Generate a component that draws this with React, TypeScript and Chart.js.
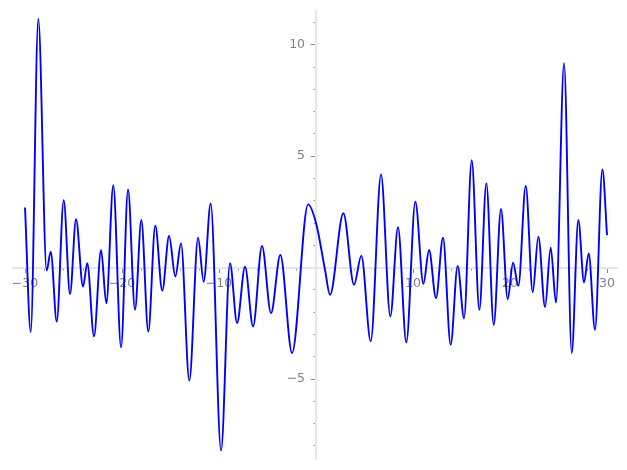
import { useEffect, useRef } from 'react';
import { Chart, registerables } from 'chart.js';

Chart.register(...registerables);

// Curve samples (extrema and a few key points)
const xValues = [
  -30, -29.41, -28.63, -27.77, -27.35, -26.73, -26.01, -25.36, -24.74, -24.02,
  -23.58, -22.89, -22.16, -21.62, -20.9, -20.1, -19.38, -18.66, -18.01, -17.29,
  -16.57, -15.85, -15.15, -14.5, -13.92, -13.06, -12.16, -11.58, -10.86, -9.79,
  -8.87, -8.14, -7.32, -6.49, -5.57, -4.64, -3.68, -2.47, -0.82, 0.0,
  0.93, 1.44, 2.82, 3.92, 4.67, 5.64, 6.7, 7.66, 8.45, 9.31,
  10.24, 11.07, 11.65, 12.37, 13.09, 13.88, 14.6, 15.26, 16.05, 16.84,
  17.56, 18.32, 19.07, 19.76, 20.31, 20.86, 21.62, 22.34, 22.92, 23.61,
  24.19, 24.74, 25.57, 26.36, 27.04, 27.63, 28.11, 28.76, 29.52, 30,
];
const yValues = [
  2.7, -2.89, 11.17, -0.13, 0.72, -2.42, 3.03, -1.19, 2.17, -0.85,
  0.2, -3.09, 0.79, -1.6, 3.7, -3.58, 3.51, -1.89, 2.14, -2.87,
  1.88, -1.04, 1.42, -0.4, 1.09, -5.07, 1.34, -0.63, 2.88, -8.21,
  0.2, -2.49, 0.04, -2.64, 0.97, -2.04, 0.57, -3.83, 2.84, 2.0,
  -0.1, -1.22, 2.44, -0.77, 0.54, -3.31, 4.18, -2.19, 1.81, -3.36,
  2.96, -0.73, 0.79, -1.37, 1.34, -3.46, 0.08, -2.27, 4.82, -1.89,
  3.78, -2.57, 2.63, -1.42, 0.22, -0.82, 3.67, -1.1, 1.39, -1.77,
  0.9, -1.57, 9.18, -3.83, 2.14, -0.67, 0.64, -2.79, 4.41, 1.46,
];

const xMajorTicks = [-30, -20, -10, 10, 20, 30];
const xMinorTicks = [
  -30, -28, -26, -24, -22, -20, -18, -16, -14, -12, -10, -8, -6, -4, -2, 0,
  2, 4, 6, 8, 10, 12, 14, 16, 18, 20, 22, 24, 26, 28, 30,
];
const yMajorTicks = [-5, 5, 10];
const yMinorTicks = [-8, -7, -6, -5, -4, -3, -2, -1, 0, 1, 2, 3, 4, 5, 6, 7, 8, 9, 10, 11];

const X_MIN = -31.27;
const X_MAX = 31.1;
const Y_MIN = -8.61;
const Y_MAX = 11.54;
// x-value at which the right edge of the y tick labels sits (left of the spine)
const Y_LABEL_ANCHOR = -1.13;

const fmt = (v: number) => (v < 0 ? '\u2212' + Math.abs(v) : String(v));

const LABEL_COLOR = '#808080';
const SPINE_COLOR = '#e6e6e6';
const TICK_COLOR = '#8c8c8c';
const FONT = { family: 'DejaVu Sans', size: 12.5 };

export default function App() {
  const ref = useRef<HTMLCanvasElement | null>(null);

  useEffect(() => {
    if (!ref.current) return;
    const chart = new Chart(ref.current, {
      type: 'line',
      data: {
        datasets: [
          {
            data: xValues.map((x, i) => ({ x, y: yValues[i] })),
            borderColor: '#0000ff',
            borderWidth: 1.9,
            pointRadius: 0,
            fill: false,
            cubicInterpolationMode: 'monotone',
          },
        ],
      },
      options: {
        responsive: false,
        animation: false,
        devicePixelRatio: 1,
        layout: { padding: { left: 12.7, right: 9.3, top: 10, bottom: 10 } },
        plugins: { legend: { display: false }, tooltip: { enabled: false } },
        scales: {
          x: {
            type: 'linear',
            min: X_MIN,
            max: X_MAX,
            position: { y: 0 },
            afterBuildTicks: (s: any) => {
              s.ticks = xMajorTicks.map((v) => ({ value: v }));
            },
            ticks: {
              color: LABEL_COLOR,
              font: FONT,
              padding: 5,
              autoSkip: false,
              maxRotation: 0,
              callback: (v: any) => fmt(Number(v)),
            },
            grid: { drawOnChartArea: false, drawTicks: true, tickLength: 4, tickColor: TICK_COLOR, tickWidth: 1 },
            border: { display: true, color: SPINE_COLOR, width: 2 },
          },
          xMinor: {
            type: 'linear',
            axis: 'x',
            min: X_MIN,
            max: X_MAX,
            position: { y: 0 },
            afterBuildTicks: (s: any) => {
              s.ticks = xMinorTicks.map((v) => ({ value: v }));
            },
            ticks: { display: false },
            grid: { drawOnChartArea: false, drawTicks: true, tickLength: 2.5, tickColor: TICK_COLOR, tickWidth: 1 },
            border: { display: false },
          },
          y: {
            type: 'linear',
            min: Y_MIN,
            max: Y_MAX,
            position: { x: 0 },
            afterBuildTicks: (s: any) => {
              s.ticks = yMajorTicks.map((v) => ({ value: v }));
            },
            ticks: { display: false },
            grid: { drawOnChartArea: false, drawTicks: true, tickLength: 4.5, tickColor: TICK_COLOR, tickWidth: 1 },
            border: { display: true, color: SPINE_COLOR, width: 2 },
          },
          yLabels: {
            type: 'linear',
            axis: 'y',
            min: Y_MIN,
            max: Y_MAX,
            position: { x: Y_LABEL_ANCHOR },
            afterBuildTicks: (s: any) => {
              s.ticks = yMajorTicks.map((v) => ({ value: v }));
            },
            ticks: {
              color: LABEL_COLOR,
              font: FONT,
              autoSkip: false,
              callback: (v: any) => fmt(Number(v)),
            },
            grid: { display: false, drawOnChartArea: false, drawTicks: false },
            border: { display: false },
          },
          yMinor: {
            type: 'linear',
            axis: 'y',
            min: Y_MIN,
            max: Y_MAX,
            position: { x: 0 },
            afterBuildTicks: (s: any) => {
              s.ticks = yMinorTicks.map((v) => ({ value: v }));
            },
            ticks: { display: false },
            grid: { drawOnChartArea: false, drawTicks: true, tickLength: 2.5, tickColor: TICK_COLOR, tickWidth: 1 },
            border: { display: false },
          },
        },
      } as any,
    });
    return () => chart.destroy();
  }, []);

  return (
    <div style={{ position: 'fixed', left: 0, top: 0, width: 627, height: 470, background: '#fff' }}>
      <canvas ref={ref} width={627} height={470} style={{ display: 'block' }} />
    </div>
  );
}
